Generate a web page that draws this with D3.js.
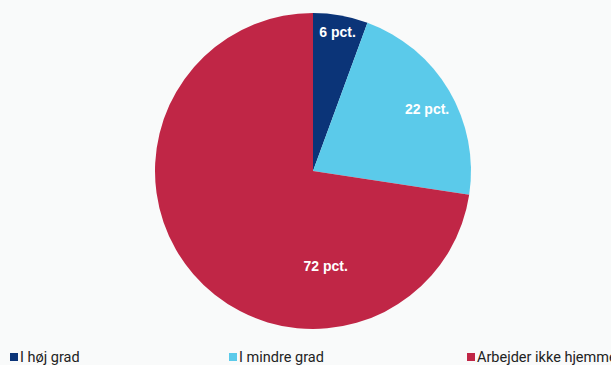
<!DOCTYPE html>
<html>
<head>
<meta charset="utf-8">
<script src="https://cdn.jsdelivr.net/npm/d3@7"></script>
<style>
  html, body { margin: 0; padding: 0; background: #f9fafa; }
  svg { display: block; }
</style>
</head>
<body>
<div id="chart"></div>
<script>
const categories = ['I høj grad', 'I mindre grad', 'Arbejder ikke hjemme'];
const values = [5.6, 21.8, 72.6];
const labels = ['6 pct.', '22 pct.', '72 pct.'];
const colors = ['#0b3478', '#5bcaea', '#c02646'];

const width = 611, height = 365;
const cx = 313, cy = 171, radius = 158;

const svg = d3.select('#chart')
  .append('svg')
  .attr('width', width)
  .attr('height', height);

const pie = d3.pie().sort(null).value((d) => d);
const arcs = pie(values);

const arc = d3.arc().innerRadius(0).outerRadius(radius);

const g = svg.append('g').attr('transform', `translate(${cx},${cy})`);

g.selectAll('path')
  .data(arcs)
  .join('path')
  .attr('d', arc)
  .attr('fill', (d, i) => colors[i]);

// label placement: small slices near the rim, big slice lower centre
function labelPos(d, i) {
  if (d.endAngle - d.startAngle > Math.PI) {
    return [radius * 0.08, radius * 0.6];
  }
  const r = i === 0 ? radius * 0.89 : radius * 0.82;
  const a = (d.startAngle + d.endAngle) / 2 - (i === 0 ? 0.0 : -0.04);
  return [Math.sin(a) * r, -Math.cos(a) * r];
}

g.selectAll('text.lbl')
  .data(arcs)
  .join('text')
  .attr('class', 'lbl')
  .attr('x', (d, i) => labelPos(d, i)[0])
  .attr('y', (d, i) => labelPos(d, i)[1])
  .attr('dy', '0.35em')
  .attr('text-anchor', 'middle')
  .attr('fill', '#fff')
  .attr('font-family', 'Liberation Sans, Arial, sans-serif')
  .attr('font-weight', 'bold')
  .attr('font-size', '14px')
  .text((d, i) => labels[i]);

// legend
const legendLeft = [10, 229, 467];
const lg = svg.selectAll('g.legend')
  .data(categories)
  .join('g')
  .attr('class', 'legend')
  .attr('transform', (d, i) => `translate(${legendLeft[i]},357)`);

lg.append('rect')
  .attr('x', 0)
  .attr('y', -4)
  .attr('width', 8)
  .attr('height', 8)
  .attr('fill', (d, i) => colors[i]);

lg.append('text')
  .attr('x', 10)
  .attr('y', 0)
  .attr('dy', '0.35em')
  .attr('fill', '#222')
  .attr('font-family', 'Roboto, sans-serif')
  .attr('font-size', '14.5px')
  .text((d) => d);
</script>
</body>
</html>
